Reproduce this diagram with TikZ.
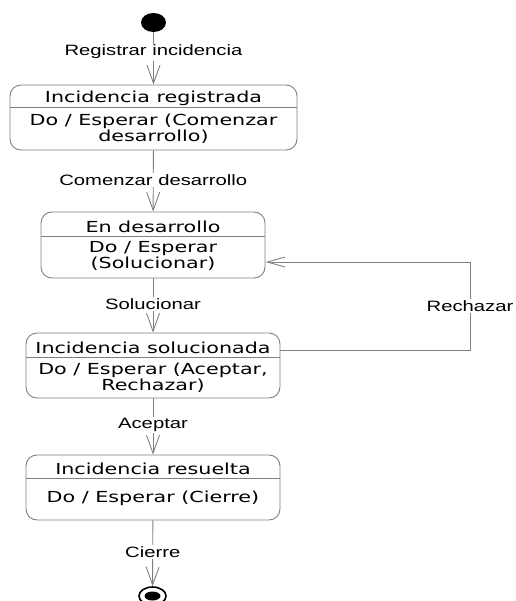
\documentclass[tikz,border=0pt]{standalone}
\usepackage{fontspec}
\usetikzlibrary{arrows.meta,shapes.geometric}
\newfontfamily\lblfont{Liberation Sans}[FakeStretch=1.35]
\newfontfamily\boxfont{DejaVu Sans}[FakeStretch=1.36]
\definecolor{edgegray}{HTML}{808080}
\begin{document}
\begin{tikzpicture}[x=1pt,y=-1pt,
  flow/.style={draw=edgegray,line width=0.9pt,-{Straight Barb[length=18pt,width=13pt]}},
  loopflow/.style={draw=edgegray,line width=0.9pt,-{Straight Barb[length=18pt,width=10pt]}},
  lbl/.style={fill=white,inner sep=1.5pt,font=\lblfont\fontsize{15}{17}\selectfont},
  statebox/.style={draw=edgegray,line width=0.9pt,rounded corners=11pt,inner sep=0pt},
  divider/.style={draw=edgegray,line width=0.7pt},
  stitle/.style={inner sep=0pt,font=\boxfont\fontsize{15.2}{16}\selectfont},
  sbody/.style={inner sep=0pt,align=center,font=\boxfont\fontsize{15.2}{16}\selectfont},
  initial/.style={ellipse,fill=black,inner sep=0pt,minimum width=25pt,minimum height=19pt},
  finalring/.style={ellipse,draw=black,line width=1.6pt,fill=white,inner sep=0pt,minimum width=27pt,minimum height=18pt},
  finaldot/.style={ellipse,fill=black,inner sep=0pt,minimum width=16pt,minimum height=9pt}]
\useasboundingbox (0,0) rectangle (515,601);

% initial pseudostate
\node[initial] (init) at (153.5,22.5) {};

% states
\node[statebox,minimum width=287pt,minimum height=65pt] (s1) at (153.5,117.5) {};
\draw[divider] ([yshift=-23pt]s1.north west) -- ([yshift=-23pt]s1.north east);
\node[stitle] (s1t) at (153.5,98.5) {Incidencia registrada};
\node[sbody] (s1b) at (153.5,129) {Do / Esperar (Comenzar\\desarrollo)};

\node[statebox,minimum width=224pt,minimum height=66pt] (s2) at (153,245) {};
\draw[divider] ([yshift=-25pt]s2.north west) -- ([yshift=-25pt]s2.north east);
\node[stitle] (s2t) at (153,226.5) {En desarrollo};
\node[sbody] (s2b) at (153,256) {Do / Esperar\\(Solucionar)};

\node[statebox,minimum width=254pt,minimum height=65pt] (s3) at (153,365.5) {};
\draw[divider] ([yshift=-25pt]s3.north west) -- ([yshift=-25pt]s3.north east);
\node[stitle] (s3t) at (153,347.5) {Incidencia solucionada};
\node[sbody] (s3b) at (153,377.5) {Do / Esperar (Aceptar,\\Rechazar)};

\node[statebox,minimum width=254pt,minimum height=65pt] (s4) at (153,487.5) {};
\draw[divider] ([yshift=-24pt]s4.north west) -- ([yshift=-24pt]s4.north east);
\node[stitle] (s4t) at (153,468.5) {Incidencia resuelta};
\node[sbody] (s4b) at (153,498) {Do / Esperar (Cierre)};

% final state
\node[finalring] (fin) at (152.5,596) {};
\node[finaldot] (finc) at (fin) {};

% transitions
\draw[flow] (init) -- node[lbl,pos=.38] {Registrar incidencia} (s1);
\draw[flow] (s1) -- node[lbl,pos=.48] {Comenzar desarrollo} (s2);
\draw[flow] (s2) -- node[lbl,pos=.47] {Solucionar} (s3);
\draw[flow] (s3) -- node[lbl,pos=.47] {Aceptar} (s4);
\draw[flow] (s4) -- node[lbl,pos=.48] {Cierre} (fin);

% rejection loop back to development
\coordinate (rc1) at (470,350);
\coordinate (rc2) at (470,262);
\draw[loopflow] ([yshift=15.5pt]s3.east) -- (rc1) -- node[lbl] {Rechazar} (rc2) -- ([yshift=-17pt]s2.east);
\end{tikzpicture}
\end{document}
